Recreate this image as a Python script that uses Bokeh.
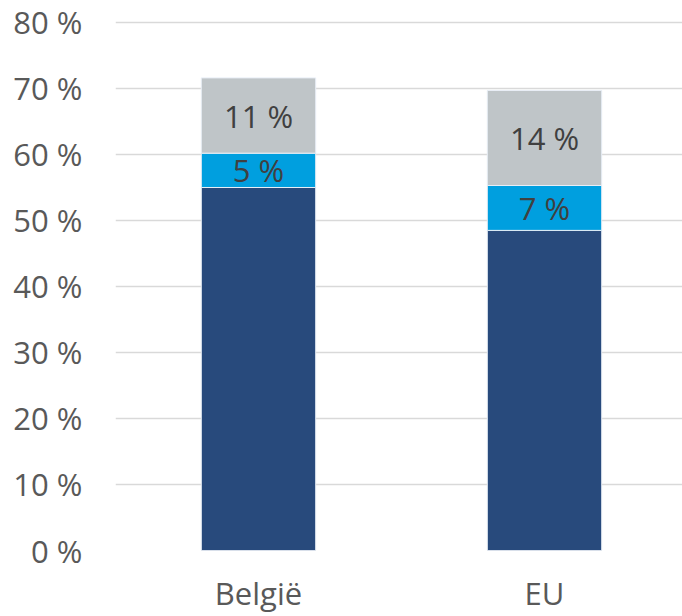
from bokeh.plotting import figure
from bokeh.models import ColumnDataSource, Range1d, FixedTicker, LabelSet
from bokeh.core.properties import value
from bokeh.embed import file_html
from bokeh.resources import INLINE

categories = ["België", "EU"]
part_dark = [55.0, 48.5]
part_blue = [5.2, 6.8]
part_gray = [11.4, 14.4]
label_blue = ["5 %", "7 %"]
label_gray = ["11 %", "14 %"]
y_ticks = [0, 10, 20, 30, 40, 50, 60, 70, 80]

FONT = "Open Sans"
x_pos = list(range(len(categories)))

src = ColumnDataSource(dict(
    x=x_pos,
    dark=part_dark,
    blue=part_blue,
    gray=part_gray,
    y_blue=[d + b / 2 for d, b in zip(part_dark, part_blue)],
    y_gray=[d + b + g / 2 for d, b, g in zip(part_dark, part_blue, part_gray)],
    lb=label_blue,
    lg=label_gray,
))

p = figure(width=682, height=616, output_backend="svg", toolbar_location=None,
           x_range=Range1d(-0.5, 1.4825), y_range=Range1d(0, 83.33),
           min_border_left=115, min_border_right=0, min_border_top=0, min_border_bottom=66)
p.outline_line_color = None
p.background_fill_color = "white"
p.border_fill_color = "white"

p.vbar_stack(["dark", "blue", "gray"], x="x", width=0.4, source=src,
             color=["#284A7C", "#009FDF", "#BFC5C8"],
             line_color="#E8EEF6", line_width=1)

for col, lab in (("y_blue", "lb"), ("y_gray", "lg")):
    p.add_layout(LabelSet(x="x", y=col, text=lab, source=src,
                          text_align="center", text_baseline="middle",
                          text_font=value(FONT), text_font_size="31px",
                          text_color="#404040"))

# y axis
p.yaxis.ticker = FixedTicker(ticks=y_ticks)
p.yaxis.major_label_overrides = {t: f"{t} %" for t in y_ticks}
p.yaxis.axis_line_color = None
p.yaxis.major_tick_line_color = None
p.yaxis.minor_tick_line_color = None
p.yaxis.major_tick_out = 0
p.yaxis.major_tick_in = 0
p.yaxis.major_label_standoff = 33
p.yaxis.major_label_text_font = FONT
p.yaxis.major_label_text_font_size = "31px"
p.yaxis.major_label_text_color = "#595959"

# x axis
p.xaxis.ticker = FixedTicker(ticks=x_pos)
p.xaxis.major_label_overrides = {i: c for i, c in enumerate(categories)}
p.xaxis.axis_line_color = None
p.xaxis.major_tick_line_color = None
p.xaxis.minor_tick_line_color = None
p.xaxis.major_tick_out = 0
p.xaxis.major_tick_in = 0
p.xaxis.major_label_standoff = 21
p.xaxis.major_label_text_font = FONT
p.xaxis.major_label_text_font_size = "31px"
p.xaxis.major_label_text_color = "#595959"

p.xgrid.grid_line_color = None
p.ygrid.grid_line_color = "#D9D9D9"
p.ygrid.grid_line_width = 1.5

open("out.html", "w").write(file_html(p, INLINE))
